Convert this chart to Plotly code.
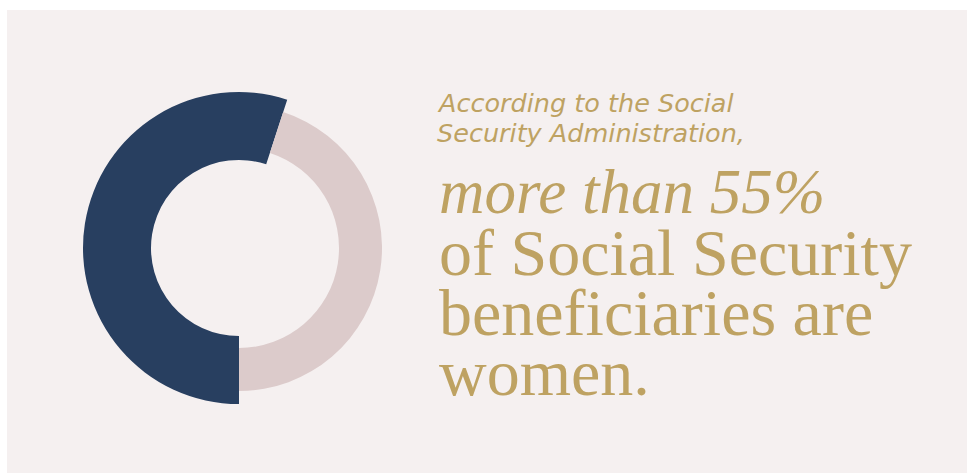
import plotly.graph_objects as go

# ---- data ----
labels = ["Women", "Men"]
values = [55, 45]

intro_lines = ["According to the Social", "Security Administration,"]
headline_italic = ["more than 55%"]
headline_lines = ["of Social Security", "beneficiaries are", "women."]

# ---- styling ----
W, H = 967, 473
NAVY = "#283f60"
PINK = "#dccbcb"
BG = "#f5f0f0"
GOLD = "#bea262"

def px_x(x):
    return x / W

def px_y(y):
    return 1 - y / H

cx, cy = 239, 248

def dom(r):
    return dict(x=[px_x(cx - r), px_x(cx + r)], y=[px_y(cy + r), px_y(cy - r)])

fig = go.Figure()

# outer (navy) ring: women share
fig.add_trace(go.Pie(
    labels=labels, values=values, sort=False, direction="clockwise", rotation=180,
    hole=88 / 156, domain=dom(156),
    marker=dict(colors=[NAVY, "rgba(0,0,0,0)"], line=dict(width=0)),
    textinfo="none", hoverinfo="label+percent", showlegend=False,
))
# inner (pink) ring: remainder
fig.add_trace(go.Pie(
    labels=labels, values=values, sort=False, direction="clockwise", rotation=180,
    hole=100 / 143, domain=dom(143),
    marker=dict(colors=["rgba(0,0,0,0)", PINK], line=dict(width=0)),
    textinfo="none", hoverinfo="label+percent", showlegend=False,
))

annotations = []
# intro lines (sans italic)
s_small = 25.5
for i, t in enumerate(intro_lines):
    base = 112 + i * 30
    annotations.append(dict(
        text=f"<i>{t}</i>", x=px_x(435), y=px_y(base - 0.36 * s_small),
        xref="paper", yref="paper", xanchor="left", yanchor="middle", showarrow=False,
        font=dict(family="DejaVu Sans", size=s_small, color=GOLD),
    ))

big_lines = [(f"<i>{t}</i>") for t in headline_italic] + headline_lines
sizes = [63, 66, 66, 66]
bases = [213, 275, 335, 395]
for t, base, s in zip(big_lines, bases, sizes):
    annotations.append(dict(
        text=t, x=px_x(437), y=px_y(base - 0.34 * s),
        xref="paper", yref="paper", xanchor="left", yanchor="middle", showarrow=False,
        font=dict(family="Liberation Serif", size=s, color=GOLD),
    ))

shapes = [
    dict(type="rect", xref="paper", yref="paper", x0=0, x1=1, y0=px_y(10), y1=1,
         fillcolor="white", line=dict(width=0), layer="above"),
    dict(type="rect", xref="paper", yref="paper", x0=0, x1=px_x(7), y0=0, y1=1,
         fillcolor="white", line=dict(width=0), layer="above"),
]

fig.update_layout(
    width=W, height=H, margin=dict(l=0, r=0, t=0, b=0),
    paper_bgcolor=BG, plot_bgcolor=BG,
    annotations=annotations, shapes=shapes,
)

fig.write_html(
    "out.html",
    config={"displayModeBar": False},
    post_script="document.body.style.margin='0';document.body.style.overflow='hidden';",
)
